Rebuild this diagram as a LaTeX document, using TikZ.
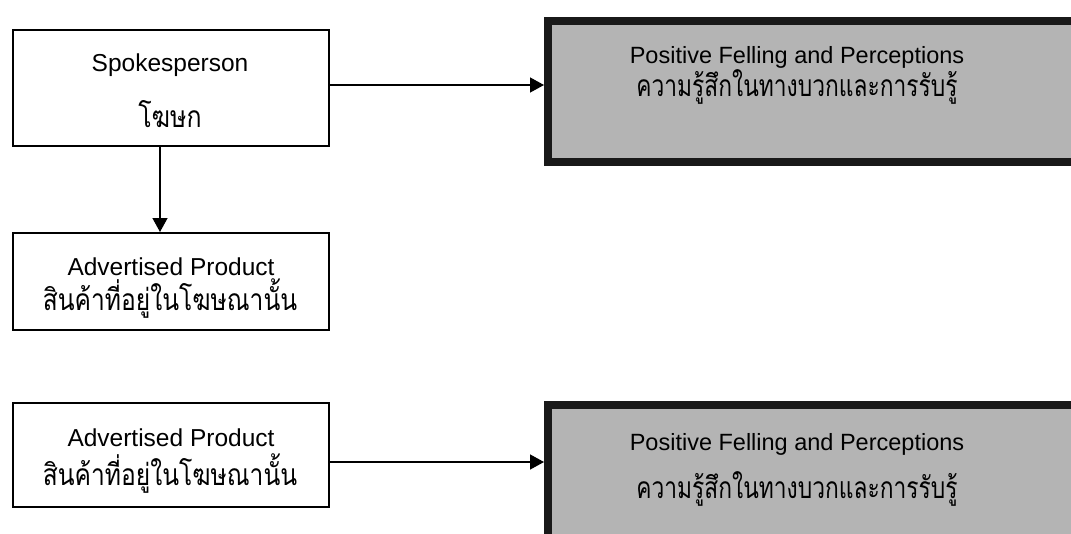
\documentclass[tikz,border=0pt]{standalone}
\usepackage{fontspec}
\setmainfont{Liberation Sans}
\newfontfamily\thaifont[Script=Thai]{Loma}
\usetikzlibrary{arrows.meta}
\definecolor{fillgray}{RGB}{180,180,180}
\definecolor{edgedark}{RGB}{25,25,25}
\begin{document}
\begin{tikzpicture}[x=1pt,y=-1pt,
  plainbox/.style={draw=black,line width=1.6pt,fill=white,inner sep=0pt,anchor=north west},
  heavybox/.style={draw=edgedark,line width=8pt,fill=fillgray,inner sep=0pt,anchor=north west},
  latin/.style={anchor=base,inner sep=0pt,font=\fontsize{24.5}{29}\selectfont},
  thai/.style={anchor=base,inner sep=0pt,font=\thaifont\fontsize{30}{36}\selectfont},
  link/.style={line width=1.4pt,-{Triangle[length=14pt,width=15pt]}}]
\useasboundingbox (0,0) rectangle (1071,533);
\clip (0,0) rectangle (1071,533);

% left column: white boxes
\node[plainbox,minimum width=316pt,minimum height=116pt] (spk) at (12,29) {};
\node[plainbox,minimum width=316pt,minimum height=97pt] (adv1) at (12,232) {};
\node[plainbox,minimum width=316pt,minimum height=104pt] (adv2) at (12,402) {};

% right column: heavy grey boxes running past the page edge
\node[heavybox,minimum width=560pt,minimum height=141pt] (pos1) at (544,17) {};
\node[heavybox,minimum width=560pt,minimum height=160pt] (pos2) at (544,401) {};

% texts
\node[latin] (spkE) at (170,71) {Spokesperson};
\node[thai] (spkT) at (170,127) {\scalebox{0.83}[1]{โฆษก}};
\node[latin] (adv1E) at (171,275) {Advertised Product};
\node[thai] (adv1T) at (170,310) {\scalebox{0.82}[1]{สินค้าที่อยู่ในโฆษณานั้น}};
\node[latin] (adv2E) at (171,446) {Advertised Product};
\node[thai] (adv2T) at (170,485) {\scalebox{0.82}[1]{สินค้าที่อยู่ในโฆษณานั้น}};
\node[latin,font=\fontsize{23.5}{28}\selectfont] (pos1E) at (797,63) {Positive Felling and Perceptions};
\node[thai] (pos1T) at (797,96) {\scalebox{0.76}[1]{ความรู้สึกในทางบวกและการรับรู้}};
\node[latin,font=\fontsize{23.5}{28}\selectfont] (pos2E) at (797,450) {Positive Felling and Perceptions};
\node[thai] (pos2T) at (797,498) {\scalebox{0.76}[1]{ความรู้สึกในทางบวกและการรับรู้}};

% connectors
\draw[link] (spk.east |- 0,85) -- (pos1.west |- 0,85);
\draw[link] (spk.south -| 160,0) -- (adv1.north -| 160,0);
\draw[link] (adv2.east |- 0,462) -- (pos2.west |- 0,462);
\end{tikzpicture}
\end{document}
